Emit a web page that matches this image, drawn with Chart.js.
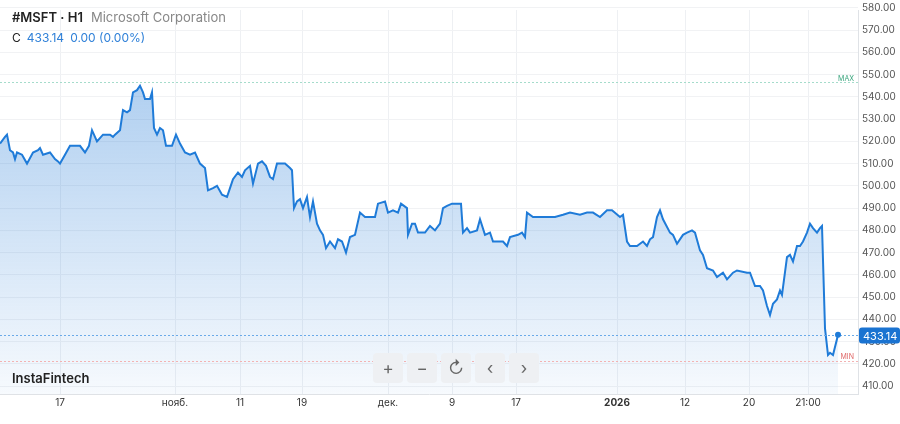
<!DOCTYPE html>
<html>
<head>
<meta charset="utf-8">
<script src="https://cdn.jsdelivr.net/npm/chart.js@4"></script>
<style>
  html, body { margin: 0; padding: 0; background: #fff; font-family: Inter, 'Noto Sans', sans-serif; }
  #wrap { position: relative; width: 900px; height: 424px; }
  #title { position: absolute; left: 12px; top: 9px; font-size: 13px; color: #222; }
  #title .name { color: #888; margin-left: 8px; }
  #quote { position: absolute; left: 12px; top: 30px; font-size: 12px; color: #222; }
  #quote span { color: #2f80d8; margin-left: 6px; }
  #brand { position: absolute; left: 12px; top: 370px; font-size: 13px; font-weight: 600; color: #222; }
  #tools { position: absolute; left: 373px; top: 353px; display: flex; gap: 4px; }
  #tools div { width: 30px; height: 30px; border-radius: 4px; background: #eef0f3; color: #666;
    display: flex; align-items: center; justify-content: center; font-size: 17px; }
</style>
</head>
<body>
<div id="wrap">
  <canvas id="chart" width="900" height="424"></canvas>
  <div id="title"><b style="font-weight:600">#MSFT · H1</b><span class="name">Microsoft Corporation</span></div>
  <div id="quote">C<span>433.14</span><span>0.00 (0.00%)</span></div>
  <div id="brand">InstaFintech</div>
  <div id="tools"><div>+</div><div>&minus;</div><div>&#x21BB;</div><div>&#x2039;</div><div>&#x203A;</div></div>
</div>
<script>
// ===== Data (time index of H1 bars, close prices) =====
const barIndex = [0,5,7,10,13,15,17,22,27,33,38,40,43,50,55,58,60,65,70,75,80,85,89,92,97,103,110,113,115,120,123,127,130,133,137,140,143,145,150,152,154,157,160,163,166,172,176,180,185,190,195,200,205,208,213,217,222,227,230,233,238,242,245,250,253,258,262,266,270,273,277,280,285,290,292,294,297,300,303,307,310,313,317,320,323,326,330,335,338,342,346,350,355,360,365,375,378,385,388,393,398,401,407,408,412,415,418,425,430,435,440,443,447,452,458,461,463,467,470,477,480,485,490,493,497,503,507,510,518,522,525,527,533,540,550,555,563,570,580,587,593,600,607,612,620,623,627,630,637,643,647,650,653,657,660,663,670,673,677,683,687,692,695,700,703,707,713,717,723,727,733,737,747,750,755,760,763,767,770,773,777,780,782,787,790,793,797,800,803,807,810,813,817,820,822,825,828,830,833,838];
const closes = [519,522,523,516,515,512,515,514,510,515,516,517,514,515,512,511,510,514,518,518,518,515,518,525,520,523,523,522,523,525,534,533,534,542,543,545,542,539,539,542,526,523,526,525,518,518,523,519,515,514,515,510,508,498,499,500,496,495,499,503,506,504,507,509,501,510,511,509,504,503,510,510,510,508,507,490,493,494,490,495,486,493,483,480,478,472,475,472,476,475,470,477,478,488,486,486,492,493,488,489,488,492,490,478,483,483,479,479,482,480,483,490,491,492,492,492,479,481,479,480,485,478,479,475,475,475,473,477,478,479,477,488,486,486,486,486,487,488,487,488,488,486,489,489,486,487,475,473,473,475,473,476,477,486,489,485,479,478,474,478,479,480,479,471,469,463,462,459,461,458,461,462,461,461,455,455,453,446,442,447,449,453,451,468,469,466,473,473,475,479,483,481,479,481,482,436,424,425,424,433,433.14];

const xTickPos = [60,175,240,302,388,452,516,617,685,749,808];
const xTickLabels = ['17','нояб.','11','19','дек.','9','17','2026','12','20','21:00'];
const yTicks = [410,420,430,440,450,460,470,480,490,500,510,520,530,540,550,560,570,580];

const LAST = 433.14, MAX_LVL = 546.5, MIN_LVL = 421.5;
const BLUE = '#1f7bd8';

const levelsPlugin = {
  id: 'levels',
  afterDatasetsDraw(chart) {
    const { ctx, chartArea: a, scales: { x, y } } = chart;
    const line = (v, color) => {
      const py = Math.round(y.getPixelForValue(v)) + 0.5;
      ctx.save(); ctx.strokeStyle = color; ctx.lineWidth = 1; ctx.setLineDash([2, 2]);
      ctx.beginPath(); ctx.moveTo(a.left, py); ctx.lineTo(a.right, py); ctx.stroke(); ctx.restore();
      return py;
    };
    const pMax = line(MAX_LVL, '#a5dccb');
    const pMin = line(MIN_LVL, '#f2b3b3');
    const pLast = line(LAST, '#6aaae8');
    ctx.save();
    ctx.font = '7px Inter'; ctx.textAlign = 'right';
    ctx.fillStyle = '#3aa57d'; ctx.fillText('MAX', a.right - 4, pMax - 2);
    ctx.fillStyle = '#e06a6a'; ctx.fillText('MIN', a.right - 4, pMin - 3);
    ctx.fillStyle = BLUE;
    ctx.beginPath();
    ctx.arc(x.getPixelForValue(barIndex[barIndex.length - 1]), y.getPixelForValue(LAST), 3, 0, Math.PI * 2);
    ctx.fill();
    ctx.fillStyle = '#1a73d1';
    ctx.beginPath(); ctx.roundRect(a.right + 1, pLast - 8, 41, 16, 3); ctx.fill();
    ctx.fillStyle = '#fff'; ctx.font = '11px Inter'; ctx.textAlign = 'left';
    ctx.fillText(LAST.toFixed(2), a.right + 5, pLast + 4);
    ctx.restore();
  }
};

function renderChart() {
  const canvas = document.getElementById('chart');
  const ctx = canvas.getContext('2d');
  const grad = ctx.createLinearGradient(0, 70, 0, 394);
  grad.addColorStop(0, 'rgba(40,125,215,0.38)');
  grad.addColorStop(1, 'rgba(40,125,215,0.04)');

  new Chart(canvas, {
    type: 'line',
    data: {
      datasets: [{
        data: barIndex.map((x, i) => ({ x, y: closes[i] })),
        borderColor: BLUE,
        borderWidth: 2,
        backgroundColor: grad,
        fill: 'start',
        tension: 0,
        pointRadius: 0,
      }],
    },
    options: {
      responsive: false,
      animation: false,
      layout: { padding: 0 },
      plugins: { legend: { display: false }, tooltip: { enabled: false } },
      scales: {
        x: {
          type: 'linear', min: 0, max: 858,
          afterBuildTicks: (s) => { s.ticks = xTickPos.map((v) => ({ value: v })); },
          afterFit: (s) => { s.height = 30; },
          ticks: {
            maxRotation: 0, autoSkip: false, color: '#333',
            font: (c) => ({ family: 'Inter', size: 10, weight: xTickLabels[c.index] === '2026' ? 'bold' : 'normal' }),
            callback: (v, i) => xTickLabels[i],
          },
          grid: { color: '#eef0f3', drawTicks: false },
          border: { color: '#dfe2e6' },
        },
        y: {
          position: 'right', min: 406.5, max: 579,
          afterBuildTicks: (s) => { s.ticks = yTicks.map((v) => ({ value: v })); },
          afterFit: (s) => { s.width = 42; },
          ticks: { color: '#555', font: { family: 'Inter', size: 10 }, padding: 4, callback: (v) => v.toFixed(2) },
          grid: { color: '#f1f2f4', drawTicks: false },
          border: { color: '#dfe2e6' },
        },
      },
    },
    plugins: [levelsPlugin],
  });
}

renderChart();
</script>
</body>
</html>
